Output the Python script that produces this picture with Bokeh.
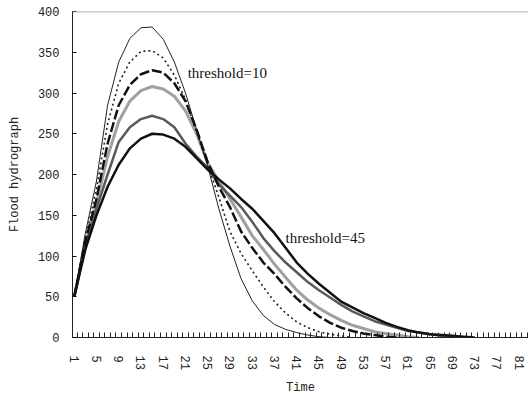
from bokeh.plotting import figure
from bokeh.models import FixedTicker, Span, Label, Range1d
from bokeh.embed import file_html
from bokeh.resources import INLINE

# Time steps (sampled every 2 steps)
time = [1, 3, 5, 7, 9, 11, 13, 15, 17, 19, 21, 23, 25, 27, 29, 31, 33, 35, 37,
        39, 41, 43, 45, 47, 49, 51, 53, 55, 57, 59, 61, 63, 65, 67, 69, 71, 73]

# Flood hydrographs for different thresholds (threshold=10 ... threshold=45)
q_thr10 = [50, 128, 192, 285, 338, 367, 380, 381, 366, 338, 300, 255, 210, 158, 112, 72, 45, 27, 16, 10,
           6, 3, 1, 0]
q_thr17 = [50, 122, 182, 262, 312, 338, 351, 352, 343, 322, 292, 252, 212, 172, 130, 103, 82, 62, 44, 30,
           19, 12, 7, 4, 2, 0]
q_thr24 = [50, 118, 170, 238, 285, 310, 323, 328, 325, 312, 290, 255, 215, 185, 160, 130, 110, 92, 78, 62,
           48, 36, 26, 18, 12, 8, 5, 3, 1, 0]
q_thr31 = [50, 115, 165, 222, 265, 290, 303, 308, 305, 296, 278, 250, 214, 192, 170, 148, 125, 108, 90, 74,
           58, 46, 36, 28, 21, 15, 11, 7, 5, 3, 1, 0]
q_thr38 = [50, 112, 158, 200, 240, 258, 268, 272, 268, 258, 238, 222, 208, 188, 174, 160, 142, 122, 106, 92,
           80, 68, 58, 49, 40, 32, 26, 20, 16, 12, 8, 6, 4, 2, 1, 0]
q_thr45 = [50, 108, 150, 185, 212, 232, 244, 250, 249, 244, 234, 220, 206, 194, 183, 170, 158, 143, 128, 110,
           92, 78, 66, 55, 44, 37, 30, 24, 18, 13, 9, 6, 4, 3, 2, 1, 0]

x_labels = list(range(1, 82, 4))
y_ticks = list(range(0, 401, 50))

p = figure(frame_width=456, frame_height=326, output_backend="svg", toolbar_location=None,
           x_range=Range1d(0.69, 82.67), y_range=Range1d(0, 400),
           min_border_left=72, min_border_right=0, min_border_top=11, min_border_bottom=20)
p.outline_line_color = None
p.background_fill_color = "white"
p.border_fill_color = "white"
p.xgrid.visible = False
p.ygrid.visible = False

FONT = "Liberation Mono"

# x axis
p.xaxis.ticker = FixedTicker(ticks=x_labels, minor_ticks=[k + 0.5 for k in range(0, 83)])
p.xaxis.major_tick_line_color = None
p.xaxis.minor_tick_in = 5
p.xaxis.minor_tick_out = 0
p.xaxis.minor_tick_line_color = "#222222"
p.xaxis.major_label_orientation = "vertical"
p.xaxis.major_label_standoff = 12
p.xaxis.axis_label = "Time"
p.xaxis.axis_label_standoff = 8

# y axis
p.yaxis.ticker = FixedTicker(ticks=y_ticks, minor_ticks=[])
p.yaxis.major_tick_in = 4
p.yaxis.major_tick_out = 0
p.yaxis.major_label_standoff = 13
p.yaxis.axis_label = "Flood hydrograph"
p.yaxis.axis_label_standoff = 13

for ax in (p.xaxis, p.yaxis):
    ax.axis_line_color = "#222222"
    ax.major_label_text_font = FONT
    ax.major_label_text_font_size = "12px"
    ax.major_label_text_color = "#222222"
    ax.axis_label_text_font = FONT
    ax.axis_label_text_font_size = "12px"
    ax.axis_label_text_font_style = "normal"
    ax.axis_label_text_color = "#222222"

p.add_layout(Span(location=400, dimension="width", line_color="#999999", line_width=1.5))

p.line(time[:len(q_thr31)], q_thr31, line_color="#a0a0a0", line_width=3)
p.line(time[:len(q_thr38)], q_thr38, line_color="#5a5a5a", line_width=2.5)
p.line(time[:len(q_thr10)], q_thr10, line_color="#222222", line_width=1)
p.line(time[:len(q_thr17)], q_thr17, line_color="#222222", line_width=1.6, line_dash="2 3")
p.line(time[:len(q_thr24)], q_thr24, line_color="#111111", line_width=2.5, line_dash="10 3")
p.line(time[:len(q_thr45)], q_thr45, line_color="#111111", line_width=2.5)

p.add_layout(Label(x=21.4, y=325, text="threshold=10", text_font="Liberation Serif",
                   text_font_size="15px", text_baseline="middle", text_color="#111111"))
p.add_layout(Label(x=39.0, y=122, text="threshold=45", text_font="Liberation Serif",
                   text_font_size="15px", text_baseline="middle", text_color="#111111"))

open("out.html", "w").write(file_html(p, INLINE))
